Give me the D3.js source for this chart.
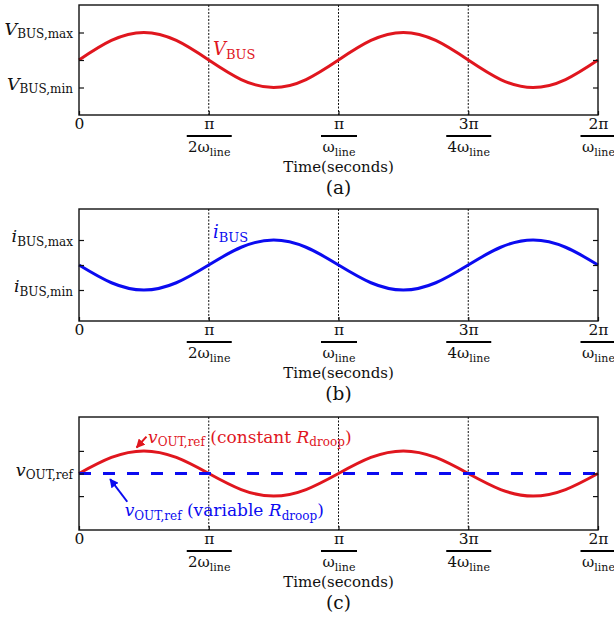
<!DOCTYPE html>
<html>
<head>
<meta charset="utf-8">
<script src="https://cdn.jsdelivr.net/npm/d3@7"></script>
<style>
  body { margin: 0; background: #fff; }
  text { font-family: "DejaVu Serif", serif; fill: #111; }
</style>
</head>
<body>
<svg id="canvas"></svg>
<script>
// time axis, as a fraction of the shown window (two ripple periods)
let timeTicks = [0, 0.25, 0.5, 0.75, 1];
let tickNum = ["0", "π", "π", "3π", "2π"];
let tickDen = ["", "2ω", "ω", "4ω", "ω"];

// samples, every 1/16 of the window
let sampleT = [0, 0.0625, 0.125, 0.1875, 0.25, 0.3125, 0.375, 0.4375, 0.5,
               0.5625, 0.625, 0.6875, 0.75, 0.8125, 0.875, 0.9375, 1];
let vBus      = [0, 0.71, 1, 0.71, 0, -0.71, -1, -0.71, 0, 0.71, 1, 0.71, 0, -0.71, -1, -0.71, 0];
let iBus      = [0, -0.71, -1, -0.71, 0, 0.71, 1, 0.71, 0, -0.71, -1, -0.71, 0, 0.71, 1, 0.71, 0];
let vOutConst = [0, 0.71, 1, 0.71, 0, -0.71, -1, -0.71, 0, 0.71, 1, 0.71, 0, -0.71, -1, -0.71, 0];
let vOutVar   = [0, 0, 0, 0, 0, 0, 0, 0, 0, 0, 0, 0, 0, 0, 0, 0, 0];

let red = "#e0161e";
let blue = "#0b0bf0";

let width = 614;
let height = 622;
let left = 79;
let right = 598;

let canvas = d3.select("#canvas");
canvas.attr("width", width).attr("height", height);

let defs = canvas.append("defs");
[["arRed", red], ["arBlue", blue]].forEach(([id, c]) => {
    defs.append("marker")
        .attr("id", id)
        .attr("viewBox", "0 0 10 10")
        .attr("refX", 9).attr("refY", 5)
        .attr("markerWidth", 4.5).attr("markerHeight", 4.5)
        .attr("orient", "auto")
        .append("path")
        .attr("d", "M0,0 L10,5 L0,10 z")
        .attr("fill", c);
});

let xScale = d3.scaleLinear().domain([0, 1]).range([left, right]);

// parts: [text, kind] kind = "i" italic, "r" roman, "s" subscript
let mathText = (sel, parts, size, subSize) => {
    let down = false;
    parts.forEach(([t, k]) => {
        let ts = sel.append("tspan").text(t);
        if (k === "s") {
            ts.attr("font-size", subSize);
            if (!down) { ts.attr("dy", 3.5); down = true; }
        } else {
            ts.attr("font-size", size);
            if (down) { ts.attr("dy", -3.5); down = false; }
            if (k === "i") ts.attr("font-style", "italic");
        }
    });
};

let panels = [
    { top: 5, bottom: 115, yDomain: [-2, 2], letter: "(a)",
      yLabels: [[1, [["V", "i"], ["BUS,max", "s"]]], [-1, [["V", "i"], ["BUS,min", "s"]]]],
      series: [{ values: vBus, color: red, dash: null }],
      notes: [{ x: 0.258, y: 0.18, color: red, parts: [["V", "i"], ["BUS", "s"]], size: 18, sub: 13 }] },
    { top: 209, bottom: 321, yDomain: [-2.24, 2.24], letter: "(b)",
      yLabels: [[1, [["i", "i"], ["BUS,max", "s"]]], [-1, [["i", "i"], ["BUS,min", "s"]]]],
      series: [{ values: iBus, color: blue, dash: null }],
      notes: [{ x: 0.258, y: 1.08, color: blue, parts: [["i", "i"], ["BUS", "s"]], size: 18, sub: 13 }] },
    { top: 417, bottom: 530, yDomain: [-2.5, 2.5], letter: "(c)",
      yLabels: [[0, [["v", "i"], ["OUT,ref", "s"]]]],
      series: [{ values: vOutConst, color: red, dash: null },
               { values: vOutVar, color: blue, dash: "12,12" }],
      notes: [{ x: 0.133, y: 1.37, color: red, size: 17, sub: 12,
                parts: [["v", "i"], ["OUT,ref", "s"], [" (constant ", "r"], ["R", "i"], ["droop", "s"], [")", "r"]] },
              { x: 0.088, y: -1.9, color: blue, size: 17, sub: 12,
                parts: [["v", "i"], ["OUT,ref", "s"], [" (variable ", "r"], ["R", "i"], ["droop", "s"], [")", "r"]] }],
      arrows: [{ from: [0.13, 1.63], to: [0.111, 1.15], marker: "arRed", color: red },
               { from: [0.093, -1.25], to: [0.06, -0.25], marker: "arBlue", color: blue }] }
];

let drawPanel = (p) => {
    let g = canvas.append("g");
    let yScale = d3.scaleLinear().domain(p.yDomain).range([p.bottom, p.top]);

    g.selectAll(".grid")
        .data(timeTicks.slice(1, 4))
        .enter()
        .append("line")
        .attr("x1", d => xScale(d)).attr("x2", d => xScale(d))
        .attr("y1", p.top).attr("y2", p.bottom)
        .attr("stroke", "#111").attr("stroke-width", 1)
        .attr("stroke-dasharray", "2,1.5");

    let line = d3.line()
        .x((d, i) => xScale(sampleT[i]))
        .y(d => yScale(d))
        .curve(d3.curveNatural);

    p.series.forEach(s => {
        g.append("path")
            .datum(s.values)
            .attr("d", line)
            .attr("fill", "none")
            .attr("stroke", s.color)
            .attr("stroke-width", 3)
            .attr("stroke-dasharray", s.dash);
    });

    let xAxis = d3.axisBottom(xScale).tickValues(timeTicks)
        .tickSizeInner(-4).tickSizeOuter(0).tickFormat("");
    let xg = g.append("g")
        .attr("transform", "translate(0," + p.bottom + ")")
        .call(xAxis);

    let yTicks = [-1, 0, 1];
    let yl = g.append("g").attr("transform", "translate(" + left + ",0)")
        .call(d3.axisLeft(yScale).tickValues(yTicks).tickSizeInner(-5).tickSizeOuter(0).tickFormat(""));
    let yr = g.append("g").attr("transform", "translate(" + right + ",0)")
        .call(d3.axisRight(yScale).tickValues(yTicks).tickSizeInner(-5).tickSizeOuter(0).tickFormat(""));
    [xg, yl, yr].forEach(a => {
        a.select(".domain").remove();
        a.selectAll(".tick line").attr("stroke", "#111").attr("stroke-width", 1.2);
    });

    xg.selectAll(".tick").each(function (d, i) {
        let t = d3.select(this);
        t.append("text").attr("y", 14).attr("text-anchor", "middle")
            .attr("font-size", 15.5).text(tickNum[i]);
        if (tickDen[i]) {
            let w = tickDen[i].length > 1 ? 45 : 36;
            t.append("line").attr("x1", -w / 2).attr("x2", w / 2)
                .attr("y1", 21).attr("y2", 21)
                .attr("stroke", "#000").attr("stroke-width", 2);
            let dt = t.append("text").attr("y", 37).attr("text-anchor", "middle");
            mathText(dt, [[tickDen[i], "r"], ["line", "s"]], 15, 11);
        }
    });

    g.append("text")
        .attr("x", xScale(0.5)).attr("y", p.bottom + 57)
        .attr("text-anchor", "middle").attr("font-size", 15)
        .text("Time(seconds)");
    g.append("text")
        .attr("x", xScale(0.5)).attr("y", p.bottom + 79)
        .attr("text-anchor", "middle").attr("font-size", 18.5)
        .text(p.letter);

    p.yLabels.forEach(([v, parts]) => {
        let t = g.append("text")
            .attr("x", left - 6).attr("y", yScale(v) + 2)
            .attr("text-anchor", "end");
        mathText(t, parts, 17.5, 12);
    });

    p.notes.forEach(n => {
        let t = g.append("text")
            .attr("x", xScale(n.x)).attr("y", yScale(n.y))
            .style("fill", n.color);
        mathText(t, n.parts, n.size, n.sub);
        t.selectAll("tspan").style("fill", n.color);
    });

    (p.arrows || []).forEach(a => {
        g.append("line")
            .attr("x1", xScale(a.from[0])).attr("y1", yScale(a.from[1]))
            .attr("x2", xScale(a.to[0])).attr("y2", yScale(a.to[1]))
            .attr("stroke", a.color).attr("stroke-width", 2)
            .attr("marker-end", "url(#" + a.marker + ")");
    });

    g.append("rect")
        .attr("x", left).attr("y", p.top)
        .attr("width", right - left).attr("height", p.bottom - p.top)
        .attr("fill", "none").attr("stroke", "#111").attr("stroke-width", 1.4);
};

panels.forEach(drawPanel);
</script>
</body>
</html>
